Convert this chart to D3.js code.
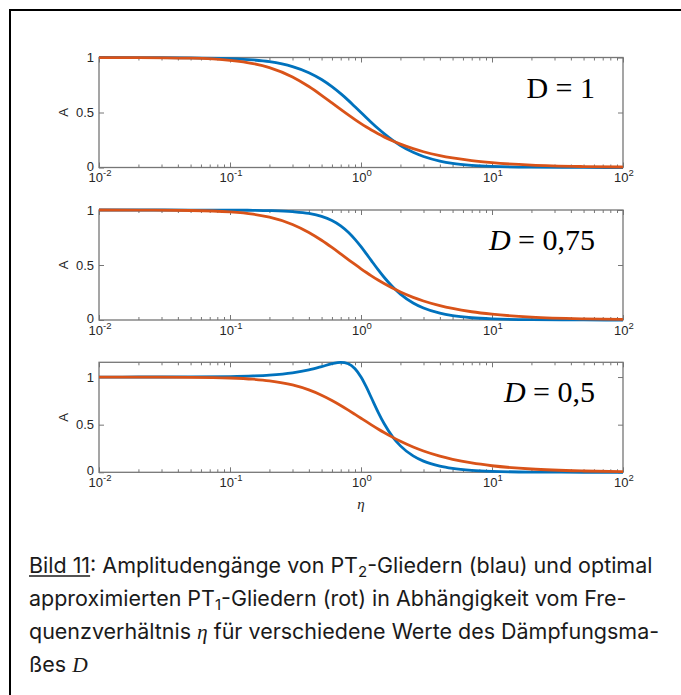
<!DOCTYPE html>
<html>
<head>
<meta charset="utf-8">
<script src="https://cdn.jsdelivr.net/npm/d3@7"></script>
<style>
body { margin: 0; background: #fff; }
svg text { font-family: "Liberation Sans", Arial, sans-serif; }
svg text.caption { font-family: Inter, "Liberation Sans", Arial, sans-serif; }
svg .serif { font-family: "Liberation Serif", "Times New Roman", serif; }
</style>
</head>
<body>
<svg id="chart" width="681" height="695"></svg>
<script>
// frequency ratio eta
var eta = [0.01, 0.02, 0.05, 0.1, 0.15, 0.2, 0.3, 0.4, 0.5, 0.6, 0.7, 0.8, 0.9, 1,
           1.1, 1.2, 1.35, 1.5, 1.75, 2, 2.5, 3, 4, 5, 7, 10, 20, 50, 100];

// amplitude A, PT2 (blue) and PT1 approximation (red), D = 1
var blueD1 = [1.000, 0.9996, 0.9975, 0.990, 0.978, 0.962, 0.917, 0.862, 0.800, 0.735, 0.671, 0.610, 0.552, 0.500,
              0.4525, 0.410, 0.3543, 0.308, 0.2462, 0.200, 0.138, 0.100, 0.059, 0.038, 0.020, 0.0099, 0.0025, 0.0004, 0.0001];
var redD1 = [0.9997, 0.999, 0.9935, 0.9746, 0.9453, 0.9085, 0.8231, 0.7359, 0.6562, 0.5868, 0.5276, 0.4775, 0.4350, 0.3987,
             0.3676, 0.3406, 0.3066, 0.2784, 0.2411, 0.2124, 0.1713, 0.1434, 0.1081, 0.0866, 0.0620, 0.0434, 0.0217, 0.0087, 0.0043];

// D = 0,75
var blueD075 = [1.000, 1.000, 0.9997, 0.9987, 0.9970, 0.9943, 0.9850, 0.9689, 0.9428, 0.9055, 0.8567, 0.7982, 0.7335, 0.6667,
                0.6012, 0.5397, 0.4575, 0.3885, 0.2996, 0.2357, 0.1550, 0.1089, 0.0619, 0.0398, 0.0204, 0.0100, 0.0025, 0.0004, 0.0001];
var redD075 = [0.9998, 0.9993, 0.9955, 0.9824, 0.9617, 0.9348, 0.8688, 0.7962, 0.7250, 0.6594, 0.6010, 0.5496, 0.5048, 0.4657,
               0.4316, 0.4017, 0.3632, 0.3311, 0.2880, 0.2545, 0.2060, 0.1728, 0.1305, 0.1047, 0.0750, 0.0526, 0.0263, 0.0105, 0.0053];

// D = 0,5
var blueD05 = [1.000, 1.0002, 1.0013, 1.0050, 1.0112, 1.0198, 1.0436, 1.0748, 1.1094, 1.1399, 1.1547, 1.1399, 1.0871, 1.000,
               0.8930, 0.7824, 0.6326, 0.5121, 0.3697, 0.2774, 0.1720, 0.1170, 0.0644, 0.0408, 0.0206, 0.0100, 0.0025, 0.0004, 0.0001];
var redD05 = [0.9999, 0.9996, 0.9974, 0.9897, 0.9772, 0.9604, 0.9170, 0.8650, 0.8096, 0.7544, 0.7018, 0.6529, 0.6082, 0.5677,
              0.5312, 0.4983, 0.4549, 0.4177, 0.3666, 0.3260, 0.2659, 0.2240, 0.1699, 0.1366, 0.0980, 0.0688, 0.0345, 0.0138, 0.0069];

// y axis tops (axis tight) and panel labels
var yMax = [1, 1, 1.1547];
var dLabels = ["1", "0,75", "0,5"];
var dItalic = [false, true, true];

// tick values / labels
var xTicks = [0.01, 0.1, 1, 10, 100];
var xTickExp = ["-2", "-1", "0", "1", "2"];
var yTicks = [0, 0.5, 1];
var yTickLabels = ["0", "0.5", "1"];

var blue = "#0072bd", red = "#d95319";
var axisColor = "#767676", textColor = "#262626";

var svg = d3.select("#chart");

// frame round the figure (left and top edges only visible)
svg.append("path")
  .attr("d", "M10,695 L10,10 L681,10")
  .attr("fill", "none").attr("stroke", "#000").attr("stroke-width", 2);

var x = d3.scaleLog().domain([0.01, 100]).range([99, 623]);
var minorTicks = x.ticks().filter(function(t) { return xTicks.indexOf(t) < 0; });

var panelTops = [57.5, 210, 362.3];
var panelH = 110;
var series = [[blueD1, redD1], [blueD075, redD075], [blueD05, redD05]];
var tickSize = 13;

//draw one of the three panels
function makePanel(i) {
  var top = panelTops[i], bottom = top + panelH;
  var y = d3.scaleLinear().domain([0, yMax[i]]).range([bottom, top]);
  var g = svg.append("g");

  // ticks, all pointing inward
  g.append("g").attr("transform", "translate(0," + bottom + ")")
    .call(d3.axisBottom(x).tickValues(xTicks).tickSizeInner(-5).tickSizeOuter(0).tickFormat(""));
  g.append("g").attr("transform", "translate(0," + bottom + ")")
    .call(d3.axisBottom(x).tickValues(minorTicks).tickSizeInner(-3).tickSizeOuter(0).tickFormat(""));
  g.append("g").attr("transform", "translate(0," + top + ")")
    .call(d3.axisTop(x).tickValues(xTicks).tickSizeInner(-5).tickSizeOuter(0).tickFormat(""));
  g.append("g").attr("transform", "translate(0," + top + ")")
    .call(d3.axisTop(x).tickValues(minorTicks).tickSizeInner(-3).tickSizeOuter(0).tickFormat(""));
  g.append("g").attr("transform", "translate(99,0)")
    .call(d3.axisLeft(y).tickValues(yTicks).tickSizeInner(-5).tickSizeOuter(0).tickFormat(""));
  g.append("g").attr("transform", "translate(623,0)")
    .call(d3.axisRight(y).tickValues(yTicks).tickSizeInner(-5).tickSizeOuter(0).tickFormat(""));
  g.selectAll(".domain").remove();
  g.selectAll(".tick line").attr("stroke", axisColor);

  // box
  g.append("rect").attr("x", 99).attr("y", top).attr("width", 524).attr("height", panelH)
    .attr("fill", "none").attr("stroke", axisColor).attr("stroke-width", 1.3);

  // x tick labels 10^n
  xTicks.forEach(function(t, k) {
    var tx = g.append("text").attr("x", x(t) + 1).attr("y", bottom + 14.5)
      .attr("text-anchor", "middle").attr("font-size", tickSize).attr("fill", textColor);
    tx.append("tspan").text("10");
    tx.append("tspan").attr("dy", -6).attr("font-size", 9.5).text(xTickExp[k]);
  });

  // y tick labels
  yTicks.forEach(function(t, k) {
    g.append("text").attr("x", 94).attr("y", y(t) - (t == 0 ? 1.5 : 0)).attr("dy", "0.35em")
      .attr("text-anchor", "end").attr("font-size", tickSize).attr("fill", textColor)
      .text(yTickLabels[k]);
  });

  // y label
  g.append("text").attr("transform", "translate(68," + ((top + bottom) / 2) + ") rotate(-90)")
    .attr("text-anchor", "middle").attr("font-size", tickSize).attr("fill", textColor).text("A");

  // curves
  var line = d3.line()
    .x(function(d) { return x(d[0]); })
    .y(function(d) { return y(d[1]); })
    .curve(d3.curveMonotoneX);
  var cols = [blue, red];
  series[i].forEach(function(vals, k) {
    g.append("path").datum(d3.zip(eta, vals))
      .attr("d", line).attr("fill", "none")
      .attr("stroke", cols[k]).attr("stroke-width", 2.8)
      .attr("stroke-linejoin", "round");
  });

  // D = ... label
  var lab = g.append("text").attr("class", "serif").attr("x", 595).attr("y", top + 40)
    .attr("text-anchor", "end").attr("font-size", 30).attr("fill", "#000");
  lab.append("tspan").attr("font-style", dItalic[i] ? "italic" : "normal").text("D");
  lab.append("tspan").text(" = " + dLabels[i]);
}

for (var i = 0; i < 3; i++) {
  makePanel(i);
}

// x label
svg.append("text").attr("class", "serif").attr("x", 361).attr("y", 509)
  .attr("text-anchor", "middle").attr("font-size", 15).attr("font-style", "italic")
  .attr("fill", textColor).text("η");

// caption
var capX = 29, capY = 573, capDy = 33, capSize = 20;
var capLines = [];
function capLine(n) {
  var t = svg.append("text").attr("class", "caption").attr("x", capX).attr("y", capY + n * capDy)
    .attr("font-size", capSize).attr("fill", "#1a1a1a");
  capLines.push(t);
  return t;
}
function sub(t, s) {
  t.append("tspan").attr("font-size", "70%").attr("dy", 4).text(s);
}

var l1 = capLine(0);
var bild = l1.append("tspan").text("Bild 11");
l1.append("tspan").text(": Amplitudengänge von PT");
sub(l1, "2");
l1.append("tspan").attr("dy", -4).text("-Gliedern (blau) und optimal");

var l2 = capLine(1);
l2.append("tspan").text("approximierten PT");
sub(l2, "1");
l2.append("tspan").attr("dy", -4).text("-Gliedern (rot) in Abhängigkeit vom Fre-");

var l3 = capLine(2);
l3.append("tspan").text("quenzverhältnis ");
l3.append("tspan").attr("class", "serif").attr("font-style", "italic").text("η");
l3.append("tspan").text(" für verschiedene Werte des Dämpfungsma-");

var l4 = capLine(3);
l4.append("tspan").text("ßes ");
l4.append("tspan").attr("class", "serif").attr("font-style", "italic").text("D");

// scale the caption font so the first line spans the same width as in the figure
var w1 = l1.node().getComputedTextLength();
var fit = capSize * 624 / w1;
capLines.forEach(function(t) { t.attr("font-size", fit); });

svg.append("line").attr("x1", capX).attr("x2", capX + bild.node().getComputedTextLength())
  .attr("y1", capY + 3).attr("y2", capY + 3).attr("stroke", "#1a1a1a").attr("stroke-width", 1.3);
</script>
</body>
</html>
